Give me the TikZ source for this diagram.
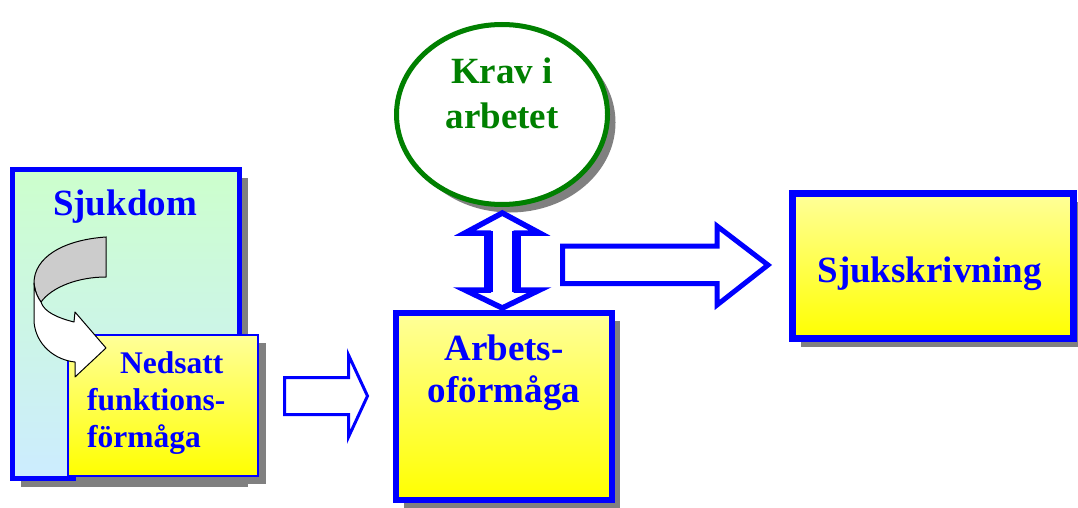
\documentclass[tikz,border=0pt]{standalone}
\usepackage{fontspec}
\setmainfont{Liberation Serif}
\usetikzlibrary{shapes.geometric,shadows}
\definecolor{boxblue}{RGB}{0,0,255}
\definecolor{kravgreen}{RGB}{0,128,0}
\definecolor{paleyellow}{RGB}{255,255,153}
\definecolor{palegreen}{RGB}{204,255,204}
\definecolor{paleblue}{RGB}{204,236,255}
\definecolor{shadowgray}{RGB}{128,128,128}
\definecolor{foldgray}{RGB}{204,204,204}
\begin{document}
\begin{tikzpicture}
      [x=1pt, y=-1pt,
       shadowed/.style={drop shadow={shadow xshift=8pt, shadow yshift=-8pt,
                        fill=shadowgray, opacity=1}},
       yellowbox/.style={shadowed, draw=boxblue, top color=paleyellow,
                         bottom color=yellow, inner sep=0pt},
       bluetext/.style={text=boxblue, inner sep=0pt,
                        font=\bfseries\fontsize{37}{42}\selectfont},
       blockarrow/.style={draw=boxblue, fill=white, line join=miter}]
      \useasboundingbox (0,0) rectangle (1078,508);
      \fill[white] (0,0) rectangle (1078,508);
      % Sjukdom med nedsatt funktionsformaga
      \node[shadowed, draw=boxblue, line width=5pt, top color=palegreen,
            bottom color=paleblue, minimum width=227, minimum height=309,
            inner sep=0pt] (sjukdom) at (126,324) {};
      \node[bluetext, anchor=base] (sjukdomtext) at (125,215) {Sjukdom};
      \node[yellowbox, line width=2pt, minimum width=190, minimum height=141]
            (nedsatt) at (163,405.5) {};
      \node[bluetext, anchor=north west, align=left,
            font=\bfseries\fontsize{31.5}{37}\selectfont]
            (nedsatttext) at (87,351.5) {\hspace*{33pt}Nedsatt\\funktions-\\förmåga};
      \draw[fill=foldgray, line width=1pt]
            (106,237) .. controls (62,240) and (34,258) .. (34,283)
            .. controls (35,292) and (38,298) .. (41,302)
            .. controls (52,287) and (78,277) .. (106,277) -- cycle;
      \draw[fill=white, line width=1pt, line join=round]
            (34,283) -- (34,322) .. controls (36,345) and (55,360) .. (75,362)
            -- (75,377) -- (106,348) -- (75,312) -- (74,322)
            .. controls (58,318) and (44,312) .. (41,302)
            .. controls (38,298) and (35,292) .. (34,283);
      % Krav i arbetet
      \node[shadowed, ellipse, draw=kravgreen, line width=5pt, fill=white,
            minimum width=211, minimum height=180, inner sep=0pt]
            (krav) at (502,114.5) {};
      \node[bluetext, text=kravgreen, anchor=north, align=center,
            font=\bfseries\fontsize{37}{45}\selectfont]
            (kravtext) at (502,57.5) {Krav i\\arbetet};
      % Arbetsoformaga
      \node[yellowbox, line width=6pt, minimum width=216, minimum height=187]
            (arbets) at (504,406.5) {};
      \node[bluetext, anchor=north, align=center]
            (arbetstext) at (504,335) {Arbets-\\oförmåga};
      % Sjukskrivning
      \node[yellowbox, line width=7pt, minimum width=281, minimum height=145]
            (sjukskr) at (933,266) {};
      \node[bluetext, anchor=base] (sjukskrtext) at (929.5,282) {Sjukskrivning};
      % blockpilar
      \draw[blockarrow, line width=5.5pt]
            (502.3,213) -- (539.5,233) -- (516.3,233) -- (516.3,290)
            -- (539.5,290) -- (502.3,308) -- (465,290) -- (488.3,290)
            -- (488.3,233) -- (465,233) -- cycle;
      \draw[boxblue, line width=9pt] (488.3,231) -- (488.3,292)
            (516.3,231) -- (516.3,292);
      \draw[blockarrow, line width=3pt]
            (284.5,377.5) -- (348.5,377.5) -- (348.5,355) -- (367.5,396)
            -- (348.5,437) -- (348.5,414.5) -- (284.5,414.5) -- cycle;
      \draw[blockarrow, line width=5pt]
            (562.5,246) -- (717,246) -- (717,226) -- (768,265) -- (717,305)
            -- (717,283.5) -- (562.5,283.5) -- cycle;
\end{tikzpicture}
\end{document}
